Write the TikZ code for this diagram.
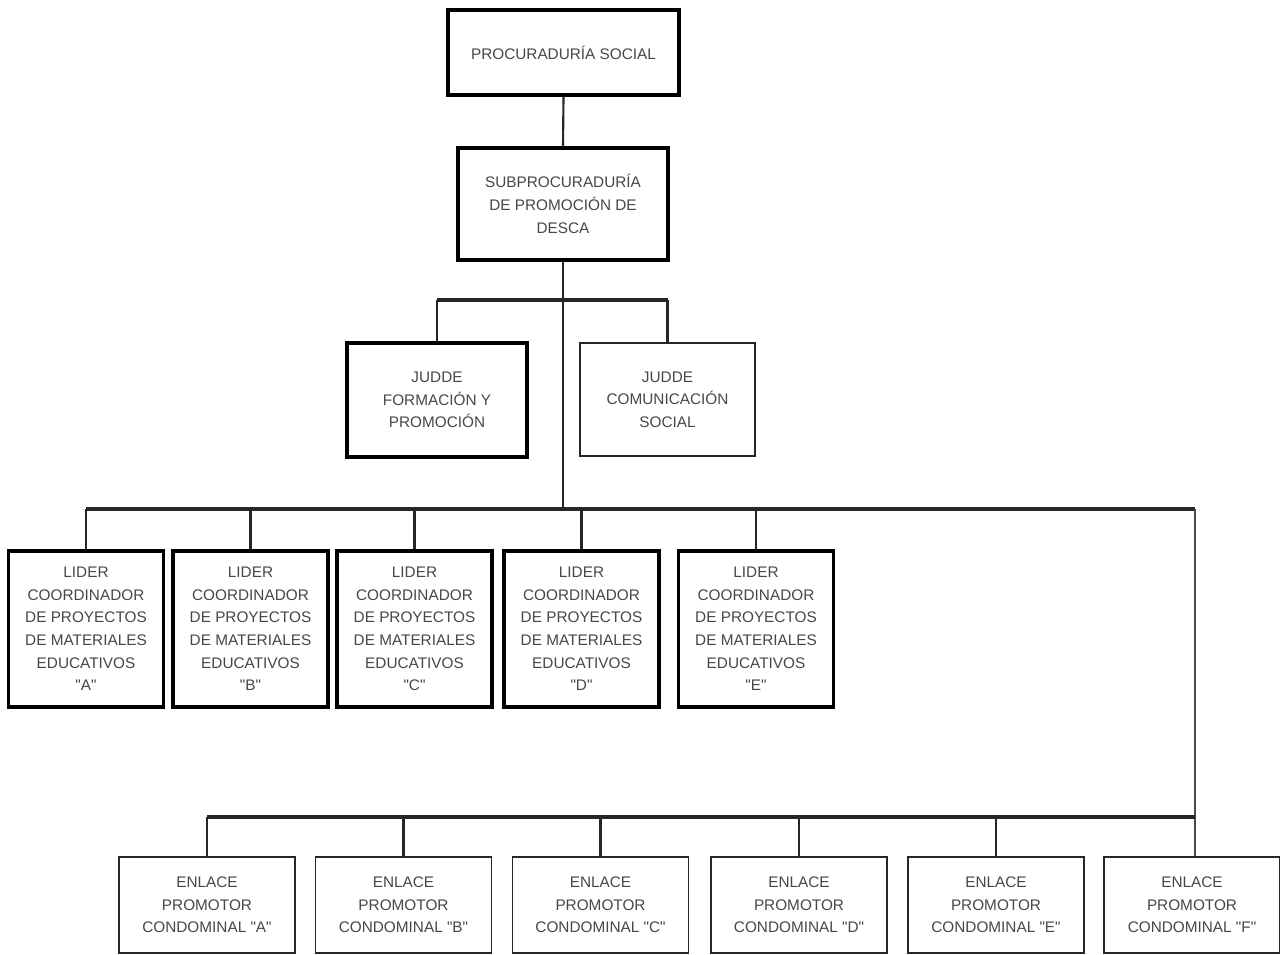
\documentclass[tikz,border=0pt]{standalone}
\usepackage{fontspec}
\setmainfont{Liberation Sans}[Ligatures=TeXOff]
\begin{document}
\begin{tikzpicture}[x=0.75pt,y=-0.75pt,
  box/.style={draw, rectangle, align=center, inner sep=0pt, fill=white,
    font=\fontsize{11.5}{17}\selectfont, text=black!72},
  thickbox/.style={box, line width=2.4pt},
  thinbox/.style={box, line width=1.1pt, draw=black!85},
  conn/.style={line width=1.6pt, black!85},
  bar/.style={line width=3pt, black!85}]
\useasboundingbox (0,0) rectangle (1280,955);

% nodes
\node[thickbox, minimum width=173.25pt, minimum height=63.75pt] (proc) at (563.5,52.5) {PROCURADURÍA SOCIAL};
\node[thickbox, minimum width=157.5pt, minimum height=84pt] (sub) at (563,204) {SUBPROCURADURÍA\\DE PROMOCIÓN DE\\DESCA};
\node[thickbox, minimum width=135pt, minimum height=85.5pt] (judf) at (437,400) {JUDDE\\FORMACIÓN Y\\PROMOCIÓN};
\node[thinbox, minimum width=131.25pt, minimum height=84.75pt] (judc) at (667.5,399.5) {JUDDE\\COMUNICACIÓN\\SOCIAL};

\foreach \n/\x/\l in {lA/86/A, lB/250.5/B, lC/414.5/C, lD/581.5/D, lE/756/E}
  \node[thickbox, minimum width=116.25pt, minimum height=117pt] (\n) at (\x,629)
    {LIDER\\COORDINADOR\\DE PROYECTOS\\DE MATERIALES\\EDUCATIVOS\\"\l"};

\foreach \n/\x/\l in {eA/207/A, eB/403.5/B, eC/600.5/C, eD/799/D, eE/996/E, eF/1192/F}
  \node[thinbox, minimum width=132pt, minimum height=72pt] (\n) at (\x,905)
    {ENLACE\\PROMOTOR\\CONDOMINAL "\l"};

% junction coordinates
\coordinate (b0) at (563,300);
\coordinate (b1) at (563,509);
\coordinate (b1r) at (1195,509);
\coordinate (b2r) at (1195,817);

% connectors
\draw[conn] (proc.south) -- (sub.north);
\draw[conn] (sub.south) -- (b1);
\draw[bar] (judf.north |- b0) -- (judc.north |- b0);
\draw[conn] (judf.north |- b0) -- (judf.north);
\draw[conn] (judc.north |- b0) -- (judc.north);

\draw[bar] (lA.north |- b1) -- (b1r);
\foreach \n in {lA,lB,lC,lD,lE}
  \draw[conn] (\n.north |- b1) -- (\n.north);

\draw[conn, black!70] (b1r) -- (b2r) -- (b2r |- eF.north);
\draw[bar] (eA.north |- b2r) -- (b2r);
\foreach \n in {eA,eB,eC,eD,eE}
  \draw[conn] (\n.north |- b2r) -- (\n.north);
\end{tikzpicture}
\end{document}
